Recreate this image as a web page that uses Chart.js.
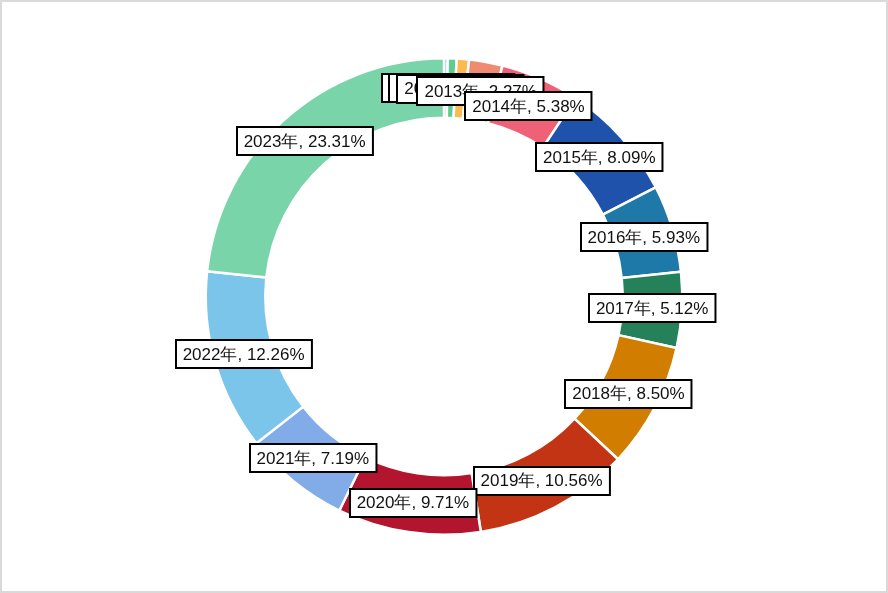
<!DOCTYPE html>
<html>
<head>
<meta charset="utf-8">
<script src="https://cdn.jsdelivr.net/npm/chart.js@4.4.1/dist/chart.umd.min.js"></script>
<style>
  html, body { margin: 0; padding: 0; background: #fff; }
  .frame {
    width: 888px; height: 593px; box-sizing: border-box;
    border: 2px solid #d9d9d9; position: relative;
  }
  canvas { display: block; }
</style>
</head>
<body>
<div class="frame"><canvas id="donut" width="884" height="589"></canvas></div>
<script>
// share of each year (%)
const years = ['2010', '2011', '2012', '2013', '2014', '2015', '2016', '2017', '2018', '2019', '2020', '2021', '2022', '2023'];
const shares = [0.25, 0.60, 0.83, 2.27, 5.38, 8.09, 5.93, 5.12, 8.50, 10.56, 9.71, 7.19, 12.26, 23.31];
const sliceColors = [
    '#7dc4ea', '#5ecb93', '#fbb94f', '#f08a70', '#ee6177', '#1f53ab', '#1f79a8',
    '#24815a', '#d07d00', '#c33414', '#b3152e', '#81ace8', '#7cc5ea', '#79d5a9'
];

// boxed "年, %" labels drawn at the middle of each arc
const boxLabels = {
    id: 'boxLabels',
    afterDatasetsDraw(chart) {
        const ctx = chart.ctx;
        const meta = chart.getDatasetMeta(0);
        ctx.save();
        ctx.font = '17px "Liberation Sans", Arial, sans-serif';
        ctx.textAlign = 'center';
        ctx.textBaseline = 'middle';
        meta.data.forEach((arc, i) => {
            const pos = arc.tooltipPosition();
            const text = years[i] + '年, ' + shares[i].toFixed(2) + '%';
            const w = ctx.measureText(text).width + 14;
            const h = 28;
            const x = Math.round(pos.x - w / 2);
            const y = Math.round(pos.y - h / 2);
            ctx.fillStyle = '#fff';
            ctx.fillRect(x, y, w, h);
            ctx.lineWidth = 2;
            ctx.strokeStyle = '#000';
            ctx.strokeRect(x, y, w, h);
            ctx.fillStyle = '#111';
            ctx.fillText(text, pos.x, pos.y + 1);
        });
        ctx.restore();
    }
};

new Chart(document.getElementById('donut'), {
    type: 'doughnut',
    data: {
        labels: years,
        datasets: [{
            data: shares,
            backgroundColor: sliceColors,
            borderColor: '#fff',
            borderWidth: 2.5
        }]
    },
    options: {
        responsive: false,
        animation: false,
        cutout: '75%',
        layout: { padding: { top: 55, bottom: 55 } },
        plugins: {
            legend: { display: false },
            tooltip: { enabled: false }
        }
    },
    plugins: [boxLabels]
});
</script>
</body>
</html>
